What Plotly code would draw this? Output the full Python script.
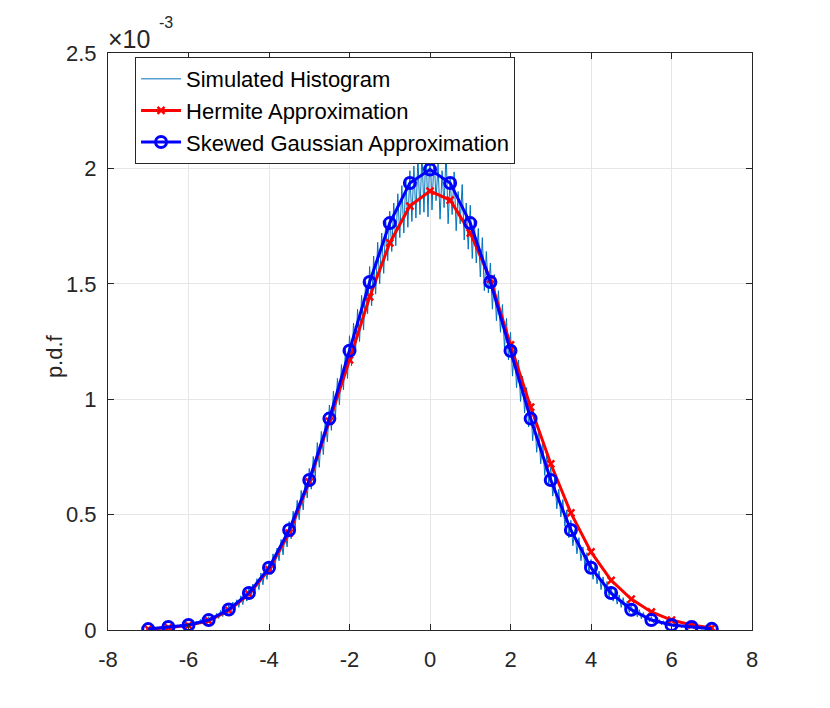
import numpy as np
import plotly.graph_objects as go

# ---------------- data (values in units of 1e-3) ----------------
hist_start = -7.0
hist_step = 0.05
hist_vals = [
    0.004,0.007,0.003,0.006,0.009, 0.004,0.010,0.006,0.012,0.007, 0.014,0.008,0.017,0.010,0.019, 0.012,0.024,0.013,0.027,0.016,
    0.030,0.019,0.036,0.022,0.039, 0.025,0.046,0.029,0.052,0.034, 0.058,0.037,0.066,0.045,0.072, 0.050,0.085,0.058,0.094,0.066,
    0.108,0.074,0.121,0.085,0.131, 0.098,0.148,0.110,0.163,0.125, 0.182,0.140,0.199,0.158,0.222, 0.175,0.247,0.196,0.268,0.219,
    0.298,0.240,0.330,0.270,0.355, 0.300,0.392,0.325,0.430,0.360, 0.470,0.395,0.515,0.440,0.562, 0.478,0.605,0.520,0.655,0.572,
    0.700,0.610,0.752,0.665,0.812, 0.705,0.860,0.760,0.915,0.815, 0.975,0.865,1.035,0.920,1.090, 0.975,1.150,1.040,1.215,1.090,
    1.275,1.145,1.330,1.205,1.390, 1.250,1.450,1.300,1.510,1.370, 1.575,1.405,1.620,1.455,1.680, 1.500,1.720,1.545,1.770,1.600,
    1.815,1.640,1.850,1.665,1.890, 1.700,1.925,1.720,1.960,1.745, 1.990,1.770,2.010,1.785,2.050, 1.800,2.070,1.810,2.095,1.790,
    2.100,1.820,2.060,1.860,2.020, 1.780,1.990,1.830,2.080,1.760, 1.960,1.800,1.985,1.730,1.900, 1.760,1.930,1.690,1.850,1.650,
    1.840,1.610,1.780,1.590,1.740, 1.530,1.700,1.470,1.640,1.460, 1.590,1.390,1.540,1.340,1.470, 1.290,1.410,1.220,1.350,1.170,
    1.290,1.100,1.230,1.050,1.170, 0.990,1.100,0.940,1.050,0.880, 0.990,0.820,0.930,0.770,0.870, 0.720,0.820,0.670,0.760,0.630,
    0.705,0.580,0.660,0.525,0.610, 0.490,0.565,0.450,0.520,0.400, 0.475,0.365,0.435,0.330,0.400, 0.300,0.360,0.275,0.335,0.245,
    0.305,0.220,0.280,0.200,0.255, 0.175,0.230,0.160,0.210,0.142, 0.190,0.125,0.170,0.112,0.152, 0.098,0.140,0.086,0.125,0.076,
    0.110,0.064,0.098,0.057,0.088, 0.049,0.076,0.043,0.066,0.036, 0.058,0.031,0.052,0.027,0.045, 0.023,0.040,0.019,0.035,0.017,
    0.030,0.014,0.026,0.012,0.023, 0.010,0.019,0.008,0.017,0.007, 0.014,0.006,0.012,0.005,0.010, 0.004,0.008,0.003,0.006,0.002,
    0.004,
]

approx_x = [-7, -6.5, -6, -5.5, -5, -4.5, -4, -3.5, -3, -2.5, -2, -1.5, -1, -0.5, 0,
            0.5, 1, 1.5, 2, 2.5, 3, 3.5, 4, 4.5, 5, 5.5, 6, 6.5, 7]
hermite_vals = [0.004, 0.010, 0.020, 0.040, 0.085, 0.155, 0.262, 0.420, 0.642, 0.905,
                1.170, 1.443, 1.677, 1.837, 1.902, 1.863, 1.720, 1.520, 1.235, 0.966,
                0.720, 0.507, 0.338, 0.215, 0.134, 0.078, 0.043, 0.022, 0.009]
skewed_vals = [0.004, 0.013, 0.022, 0.043, 0.089, 0.160, 0.270, 0.433, 0.650, 0.916,
               1.210, 1.508, 1.763, 1.937, 1.995, 1.937, 1.763, 1.508, 1.210, 0.916,
               0.650, 0.433, 0.270, 0.160, 0.088, 0.043, 0.022, 0.013, 0.005]

x_ticks = [-8, -6, -4, -2, 0, 2, 4, 6, 8]
x_tick_labels = ["-8", "-6", "-4", "-2", "0", "2", "4", "6", "8"]
y_ticks = [0, 0.5, 1, 1.5, 2, 2.5]
y_tick_labels = ["0", "0.5", "1", "1.5", "2", "2.5"]
scale = 1e-3

hist_x = hist_start + hist_step * np.arange(len(hist_vals))

FONT = "Liberation Sans, Arial, Helvetica, sans-serif"
AX = "#262626"

fig = go.Figure()
fig.add_trace(go.Scatter(
    x=hist_x, y=np.array(hist_vals) * scale, mode="lines",
    name="Simulated Histogram", line=dict(color="#0072BD", width=1)))
fig.add_trace(go.Scatter(
    x=approx_x, y=np.array(hermite_vals) * scale, mode="lines+markers",
    name="Hermite Approximation", line=dict(color="#FF0000", width=3),
    marker=dict(symbol="x-thin-open", size=7, color="#FF0000",
                line=dict(color="#FF0000", width=2.5))))
fig.add_trace(go.Scatter(
    x=approx_x, y=np.array(skewed_vals) * scale, mode="lines+markers",
    name="Skewed Gaussian Approximation", line=dict(color="#0000FF", width=3),
    marker=dict(symbol="circle-open", size=11, color="#0000FF",
                line=dict(color="#0000FF", width=3))))

# the page body adds an 8px offset, so the figure is sized to compensate
fig.update_layout(
    width=822, height=700,
    margin=dict(l=100, r=78, t=45, b=78),
    paper_bgcolor="white", plot_bgcolor="white",
    font=dict(family=FONT, size=21, color=AX),
    showlegend=True,
    legend=dict(x=0.042, y=0.993, xanchor="left", yanchor="top",
                bgcolor="white", bordercolor=AX, borderwidth=1,
                font=dict(size=22, color="black"),
                itemwidth=40, tracegroupgap=0),
    xaxis=dict(range=[-8, 8], tickvals=x_ticks, ticktext=x_tick_labels,
               showgrid=True, gridcolor="#E6E6E6", gridwidth=1, zeroline=False,
               showline=True, linecolor=AX, linewidth=1, mirror="ticks",
               ticks="inside", ticklen=6, tickcolor=AX, ticklabelstandoff=10,
               tickfont=dict(size=22, color=AX)),
    yaxis=dict(range=[0, 2.5 * scale], tickvals=[v * scale for v in y_ticks],
               ticktext=y_tick_labels, showgrid=True,
               gridcolor="#E6E6E6", gridwidth=1, zeroline=False,
               showline=True, linecolor=AX, linewidth=1, mirror="ticks",
               ticks="inside", ticklen=6, tickcolor=AX, ticklabelstandoff=6,
               tickfont=dict(size=22, color=AX)),
)

fig.add_annotation(xref="paper", yref="paper", x=0.0, y=1.0,
                   xanchor="left", yanchor="bottom", showarrow=False,
                   text="×10", font=dict(size=25, color=AX),
                   xshift=-2, yshift=-2)
fig.add_annotation(xref="paper", yref="paper", x=0.0, y=1.0,
                   xanchor="left", yanchor="bottom", showarrow=False,
                   text="-3", font=dict(size=16, color=AX),
                   xshift=49, yshift=20)
fig.add_annotation(xref="paper", yref="paper", x=-0.082, y=0.475,
                   xanchor="center", yanchor="middle", showarrow=False,
                   text="p.d.f", textangle=-90, font=dict(size=22, color=AX))

fig.write_html("out.html")
